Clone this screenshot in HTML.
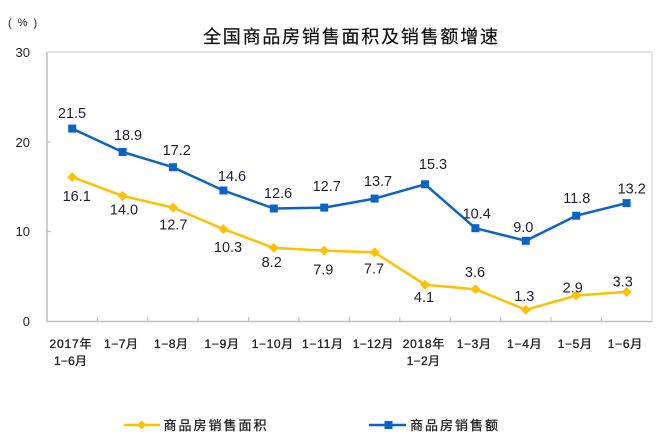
<!DOCTYPE html>
<html>
<head>
<meta charset="utf-8">
<style>
  html,body{margin:0;padding:0;background:#fff;}
  svg{display:block;}
  text{font-family:"Liberation Sans","Noto Sans CJK SC",sans-serif;}
</style>
</head>
<body>
<svg width="660" height="448" viewBox="0 0 660 448" xmlns="http://www.w3.org/2000/svg">
  <rect x="0" y="0" width="660" height="448" fill="#fff"/>
  <!-- title -->
  <text x="203" y="43" font-size="18" fill="#111" stroke="#111" stroke-width="0.2" textLength="295" lengthAdjust="spacing">全国商品房销售面积及销售额增速</text>
  <!-- unit -->
  <g font-size="11" fill="#222">
    <text x="8" y="26.5">(</text>
    <text x="22.5" y="26" text-anchor="middle">%</text>
    <text x="33.5" y="26.5">)</text>
  </g>

  <!-- plot frame -->
  <line x1="47" y1="52" x2="652" y2="52" stroke="#d4d4d4" stroke-width="1.2"/>
  <line x1="652" y1="52" x2="652" y2="322" stroke="#d4d4d4" stroke-width="1.2"/>
  <line x1="47" y1="52" x2="47" y2="322" stroke="#bfbfbf" stroke-width="1.5"/>
  <line x1="47" y1="321.5" x2="652" y2="321.5" stroke="#bfbfbf" stroke-width="1.5"/>

  <!-- y ticks -->
  <g stroke="#bfbfbf" stroke-width="1.2">
    <line x1="47" y1="142" x2="51" y2="142"/>
    <line x1="47" y1="231.5" x2="51" y2="231.5"/>
  </g>
  <!-- x ticks -->
  <g stroke="#bfbfbf" stroke-width="1.2">
    <line x1="97.4" y1="317" x2="97.4" y2="321.5"/>
    <line x1="147.8" y1="317" x2="147.8" y2="321.5"/>
    <line x1="198.2" y1="317" x2="198.2" y2="321.5"/>
    <line x1="248.6" y1="317" x2="248.6" y2="321.5"/>
    <line x1="299" y1="317" x2="299" y2="321.5"/>
    <line x1="349.4" y1="317" x2="349.4" y2="321.5"/>
    <line x1="399.8" y1="317" x2="399.8" y2="321.5"/>
    <line x1="450.2" y1="317" x2="450.2" y2="321.5"/>
    <line x1="500.6" y1="317" x2="500.6" y2="321.5"/>
    <line x1="551" y1="317" x2="551" y2="321.5"/>
    <line x1="601.4" y1="317" x2="601.4" y2="321.5"/>
  </g>

  <!-- y labels -->
  <g font-size="13" fill="#222" text-anchor="end">
    <text x="30" y="57">30</text>
    <text x="30" y="147">20</text>
    <text x="30" y="236">10</text>
    <text x="30" y="326">0</text>
  </g>

  <!-- x labels -->
  <g font-size="12" fill="#222" stroke="#222" stroke-width="0.35">
    <text x="49.5" y="348" textLength="42" lengthAdjust="spacing">2017年</text>
    <text x="54" y="365" textLength="33" lengthAdjust="spacing">1−6月</text>
    <text x="104" y="348" textLength="34" lengthAdjust="spacing">1−7月</text>
    <text x="154" y="348" textLength="34" lengthAdjust="spacing">1−8月</text>
    <text x="204.5" y="348" textLength="34.5" lengthAdjust="spacing">1−9月</text>
    <text x="251.7" y="348" textLength="41.5" lengthAdjust="spacing">1−10月</text>
    <text x="302" y="348" textLength="41" lengthAdjust="spacing">1−11月</text>
    <text x="352.7" y="348" textLength="40.6" lengthAdjust="spacing">1−12月</text>
    <text x="402.7" y="348" textLength="41.6" lengthAdjust="spacing">2018年</text>
    <text x="406.7" y="365" textLength="33.3" lengthAdjust="spacing">1−2月</text>
    <text x="456.7" y="348" textLength="34.3" lengthAdjust="spacing">1−3月</text>
    <text x="507" y="348" textLength="34.7" lengthAdjust="spacing">1−4月</text>
    <text x="557.7" y="348" textLength="34.3" lengthAdjust="spacing">1−5月</text>
    <text x="607.7" y="348" textLength="34.6" lengthAdjust="spacing">1−6月</text>
  </g>

  <!-- blue series -->
  <polyline fill="none" stroke="#0a64c8" stroke-width="2.5" stroke-linejoin="round"
    points="72.2,128.6 122.6,152.0 173,167.2 223.4,190.5 273.8,208.5 324.2,207.6 374.6,198.6 425,184.3 475.4,228.2 525.8,240.8 576.2,215.7 626.6,203.1"/>
  <g fill="#0a64c8">
    <rect x="68.2" y="124.6" width="8" height="8"/>
    <rect x="118.6" y="148.0" width="8" height="8"/>
    <rect x="169" y="163.2" width="8" height="8"/>
    <rect x="219.4" y="186.5" width="8" height="8"/>
    <rect x="269.8" y="204.5" width="8" height="8"/>
    <rect x="320.2" y="203.6" width="8" height="8"/>
    <rect x="370.6" y="194.6" width="8" height="8"/>
    <rect x="421" y="180.3" width="8" height="8"/>
    <rect x="471.4" y="224.2" width="8" height="8"/>
    <rect x="521.8" y="236.8" width="8" height="8"/>
    <rect x="572.2" y="211.7" width="8" height="8"/>
    <rect x="622.6" y="199.1" width="8" height="8"/>
  </g>

  <!-- yellow series -->
  <polyline fill="none" stroke="#ffc000" stroke-width="2.5" stroke-linejoin="round"
    points="72.2,177.1 122.6,195.9 173,207.6 223.4,229.1 273.8,247.9 324.2,250.6 374.6,252.4 425,284.7 475.4,289.2 525.8,309.8 576.2,295.5 626.6,291.9"/>
  <g fill="#ffc000">
    <polygon points="72.2,172.1 77.2,177.1 72.2,182.1 67.2,177.1"/>
    <polygon points="122.6,190.9 127.6,195.9 122.6,200.9 117.6,195.9"/>
    <polygon points="173,202.6 178,207.6 173,212.6 168,207.6"/>
    <polygon points="223.4,224.1 228.4,229.1 223.4,234.1 218.4,229.1"/>
    <polygon points="273.8,242.9 278.8,247.9 273.8,252.9 268.8,247.9"/>
    <polygon points="324.2,245.6 329.2,250.6 324.2,255.6 319.2,250.6"/>
    <polygon points="374.6,247.4 379.6,252.4 374.6,257.4 369.6,252.4"/>
    <polygon points="425,279.7 430,284.7 425,289.7 420,284.7"/>
    <polygon points="475.4,284.2 480.4,289.2 475.4,294.2 470.4,289.2"/>
    <polygon points="525.8,304.8 530.8,309.8 525.8,314.8 520.8,309.8"/>
    <polygon points="576.2,290.5 581.2,295.5 576.2,300.5 571.2,295.5"/>
    <polygon points="626.6,286.9 631.6,291.9 626.6,296.9 621.6,291.9"/>
  </g>

  <!-- blue data labels -->
  <g font-size="14.5" fill="#1e1e2e" text-anchor="middle">
    <text x="72" y="118">21.5</text>
    <text x="128" y="140">18.9</text>
    <text x="176.7" y="155">17.2</text>
    <text x="232" y="181">14.6</text>
    <text x="278" y="198">12.6</text>
    <text x="326.7" y="191">12.7</text>
    <text x="378" y="186">13.7</text>
    <text x="433" y="169">15.3</text>
    <text x="476.7" y="218.5">10.4</text>
    <text x="523.3" y="232">9.0</text>
    <text x="576.7" y="203">11.8</text>
    <text x="631.7" y="193.5">13.2</text>
  </g>
  <!-- yellow data labels -->
  <g font-size="14.5" fill="#1e1e2e" text-anchor="middle">
    <text x="76.7" y="201">16.1</text>
    <text x="124" y="214.5">14.0</text>
    <text x="173.3" y="229.5">12.7</text>
    <text x="228" y="252">10.3</text>
    <text x="271.7" y="267">8.2</text>
    <text x="323.3" y="274.5">7.9</text>
    <text x="374" y="273.5">7.7</text>
    <text x="424" y="302">4.1</text>
    <text x="475" y="277">3.6</text>
    <text x="524.3" y="301">1.3</text>
    <text x="572.7" y="292.5">2.9</text>
    <text x="622.7" y="286.5">3.3</text>
  </g>

  <!-- legend -->
  <line x1="124" y1="425" x2="160" y2="425" stroke="#ffc000" stroke-width="2.5"/>
  <polygon points="141.7,420.5 146.2,425 141.7,429.5 137.2,425" fill="#ffc000"/>
  <text x="163.5" y="430" font-size="13" fill="#222" stroke="#222" stroke-width="0.3" textLength="103" lengthAdjust="spacing">商品房销售面积</text>

  <line x1="369" y1="425" x2="406" y2="425" stroke="#0a64c8" stroke-width="2.5"/>
  <rect x="384.5" y="421" width="8" height="8" fill="#0a64c8"/>
  <text x="410" y="430" font-size="13" fill="#222" stroke="#222" stroke-width="0.3" textLength="88" lengthAdjust="spacing">商品房销售额</text>
</svg>
</body>
</html>
